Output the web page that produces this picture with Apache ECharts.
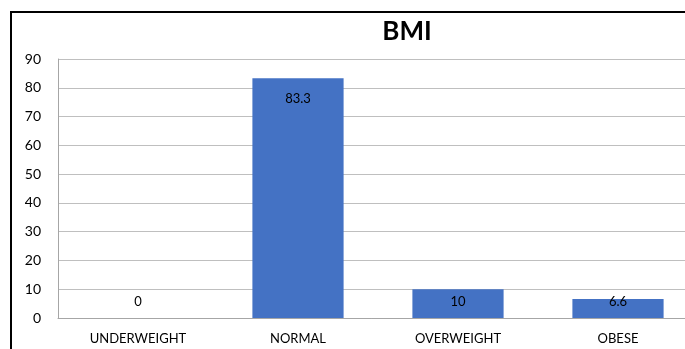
<!DOCTYPE html>
<html>
<head>
<meta charset="utf-8">
<script src="https://cdn.jsdelivr.net/npm/echarts@6/dist/echarts.min.js"></script>
<style>
  html, body { margin: 0; padding: 0; background: #fff; overflow: hidden; }
  #main { width: 685px; height: 349px; }
</style>
</head>
<body>
<div id="main"></div>
<script>
// 数据
var categories = ['UNDERWEIGHT', 'NORMAL', 'OVERWEIGHT', 'OBESE'];
var bmiValues = [0, 83.3, 10, 6.6];
var yTicks = [0, 90, 10]; // min, max, interval

var font = 'Lato, "Open Sans", sans-serif';

var myChart = echarts.init(document.getElementById('main'));

// 小柱子的标签放在底部上方（和Excel一样）
var barData = bmiValues.map(function (v) {
    if (v < 15) {
        return { value: v, label: { position: 'insideBottom', distance: 10 } };
    }
    return { value: v };
});

var option = {
    animation: false,
    title: {
        text: 'BMI',
        left: 402,
        top: 14,
        textAlign: 'center',
        textStyle: { fontFamily: font, fontSize: 26, fontWeight: 'bold', color: '#000' }
    },
    graphic: [{
        type: 'rect',
        shape: { x: 11, y: 12, width: 720, height: 400 },
        style: { fill: 'none', stroke: '#000', lineWidth: 2 },
        silent: true
    }],
    grid: { left: 58, top: 59, width: 640, bottom: 31, containLabel: false, outerBoundsMode: 'none' },
    xAxis: {
        type: 'category',
        data: categories,
        axisTick: { show: false },
        axisLine: { lineStyle: { color: '#a6a6a6' } },
        axisLabel: { color: '#000', fontFamily: font, fontSize: 13, margin: 14 }
    },
    yAxis: {
        type: 'value',
        min: yTicks[0],
        max: yTicks[1],
        interval: yTicks[2],
        axisLine: { show: true, lineStyle: { color: '#a6a6a6' } },
        axisTick: { show: false },
        splitLine: { lineStyle: { color: '#bfbfbf' } },
        axisLabel: { color: '#000', fontFamily: font, fontSize: 14, margin: 17 }
    },
    series: [{
        type: 'bar',
        data: barData,
        barWidth: '57%',
        itemStyle: { color: '#4472C4' },
        label: {
            show: true,
            position: 'insideTop',
            distance: 14,
            color: '#000',
            fontFamily: font,
            fontSize: 13
        }
    }]
};

myChart.setOption(option);
</script>
</body>
</html>
